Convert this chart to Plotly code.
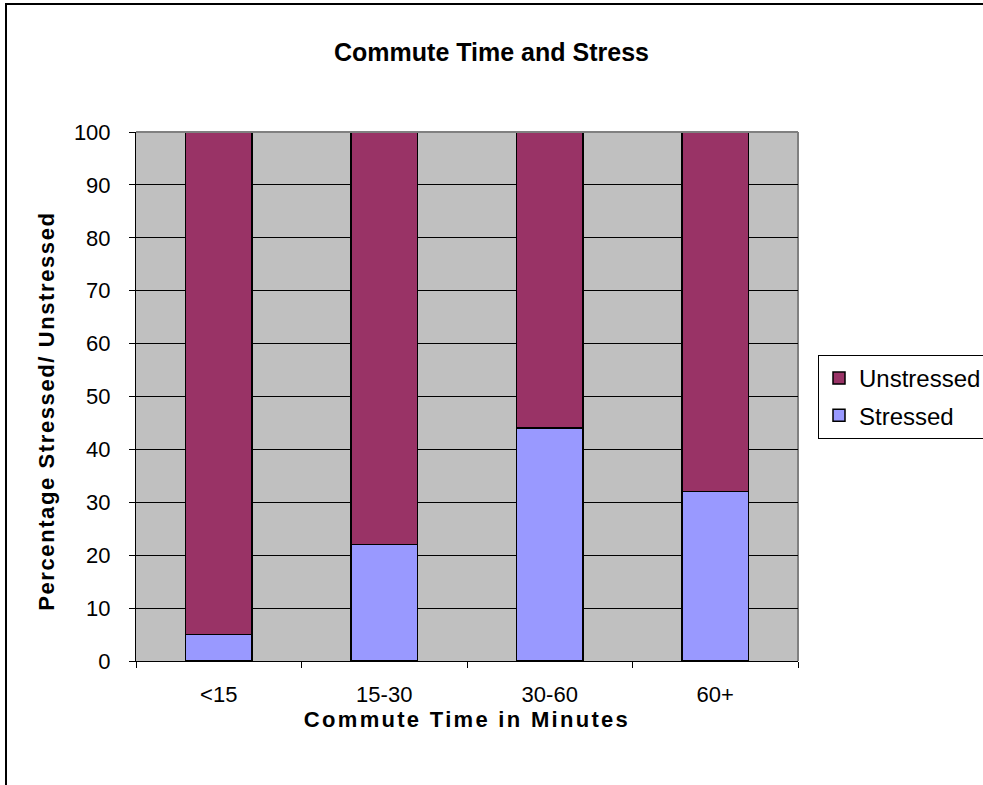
import plotly.graph_objects as go

categories = ["<15", "15-30", "30-60", "60+"]
stressed = [5, 22, 44, 32]
unstressed = [95, 78, 56, 68]

W, H = 983, 785
L, R, T, B = 136, 185, 132, 124
pw, ph = W - L - R, H - T - B


def px_x(x):
    return (x - L) / pw


def px_y(y):
    return (H - B - y) / ph


FONT = "Liberation Sans, Arial, sans-serif"
line_style = dict(color="black", width=1.5)

fig = go.Figure()
fig.add_trace(go.Bar(name="Stressed", x=categories, y=stressed,
                     legendgroup="s", legendrank=2,
                     marker=dict(color="#9999FF", line=line_style)))
fig.add_trace(go.Bar(name="Unstressed", x=categories, y=unstressed,
                     legendgroup="u", legendrank=1,
                     marker=dict(color="#993366", line=line_style)))

fig.update_layout(
    width=W, height=H,
    margin=dict(l=L, r=R, t=T, b=B, autoexpand=False),
    barmode="stack", bargap=0.6,
    plot_bgcolor="#C0C0C0", paper_bgcolor="white",
    font=dict(family=FONT, size=22, color="black"),
    title=dict(text="<b>Commute Time and Stress</b>", x=0.5, xanchor="center",
               y=1 - 52 / H, yanchor="middle", font=dict(size=25)),
    legend=dict(x=px_x(818), y=px_y(355), xanchor="left", yanchor="top",
                traceorder="grouped", bordercolor="black", borderwidth=1,
                bgcolor="white", font=dict(size=24), itemwidth=30,
                tracegroupgap=3),
    showlegend=True,
)

fig.update_xaxes(
    showgrid=False, showline=True, linecolor="black", linewidth=1,
    ticks="outside", tickson="boundaries", ticklen=6, tickcolor="black",
    ticklabelstandoff=14,
    title=dict(text="<b>Commute Time in Minutes</b>", standoff=0,
               font=dict(size=22)),
)
fig.update_yaxes(
    range=[0, 100], dtick=10, showgrid=True, gridcolor="black", gridwidth=1,
    showline=True, linecolor="black", linewidth=1,
    ticks="outside", ticklen=6, tickcolor="black", ticklabelstandoff=14,
    zeroline=False,
)

# y-axis title, set a little below the plot's centre
fig.add_annotation(text="<b>Percentage Stressed/ Unstressed</b>",
                   xref="paper", yref="paper", x=px_x(47), y=px_y(411),
                   xanchor="center", yanchor="middle", textangle=-90,
                   showarrow=False, font=dict(size=22))

# plot-area edge on the top and right
fig.add_shape(type="line", xref="paper", yref="paper", x0=0, x1=1, y0=1, y1=1,
              line=dict(color="#808080", width=2), layer="above")
fig.add_shape(type="line", xref="paper", yref="paper", x0=1, x1=1, y0=0, y1=1,
              line=dict(color="#808080", width=2), layer="below")

# outer chart frame (top and left edges)
fig.add_shape(type="line", xref="paper", yref="paper",
              x0=px_x(5), x1=px_x(W + 5), y0=px_y(4), y1=px_y(4),
              line=dict(color="black", width=2))
fig.add_shape(type="line", xref="paper", yref="paper",
              x0=px_x(6), x1=px_x(6), y0=px_y(4), y1=px_y(H + 5),
              line=dict(color="black", width=2))

# wider letter spacing for the bold axis titles
spacing_js = (
    "document.querySelectorAll('.xtitle').forEach(function(t){"
    "t.style.letterSpacing='2.3px';});"
    "document.querySelectorAll('.annotation-text').forEach(function(t){"
    "t.style.letterSpacing='1.6px';});"
)

fig.write_html("out.html", post_script=spacing_js)
